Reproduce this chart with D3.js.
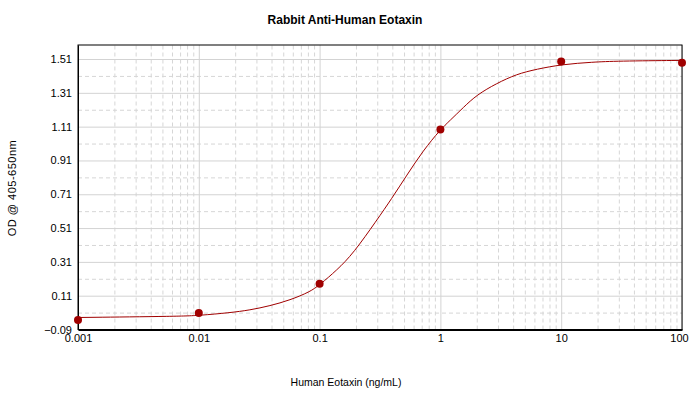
<!DOCTYPE html>
<html>
<head>
<meta charset="utf-8">
<script src="https://cdn.jsdelivr.net/npm/d3@7"></script>
<style>
  body { margin: 0; background: #fff; }
  svg { font-family: "Liberation Sans", Arial, sans-serif; }
</style>
</head>
<body>
<svg id="chart" width="700" height="400"></svg>
<script>
// standards (measured points)
const conc = [0.001, 0.01, 0.1, 1, 10, 100];
const od = [-0.034, 0.007, 0.180, 1.093, 1.496, 1.488];

// fitted curve
const fitConc = [0.001, 0.007, 0.01, 0.018, 0.0265, 0.0388, 0.0569, 0.0834, 0.1, 0.139, 0.19, 0.297, 0.395, 0.526, 0.721, 1, 1.2, 1.55, 2.0, 2.92, 4.28, 6.26, 10.1, 18.3, 28.8, 100];
const fitOd = [-0.019, -0.012, -0.007, 0.009, 0.025, 0.050, 0.084, 0.133, 0.174, 0.261, 0.360, 0.556, 0.684, 0.822, 0.969, 1.093, 1.146, 1.224, 1.298, 1.366, 1.421, 1.450, 1.478, 1.492, 1.498, 1.502];

const xTicks = [0.001, 0.01, 0.1, 1, 10, 100];
const yTicks = [-0.09, 0.11, 0.31, 0.51, 0.71, 0.91, 1.11, 1.31, 1.51];
const yMinor = [0.01, 0.21, 0.41, 0.61, 0.81, 1.01, 1.21, 1.41];

const margin = { top: 45, right: 18, bottom: 70.5, left: 78 };
const width = 700 - margin.left - margin.right;
const height = 400 - margin.top - margin.bottom;

const svg = d3.select("#chart");
const g = svg.append("g")
  .attr("transform", "translate(" + margin.left + "," + margin.top + ")");

const x = d3.scaleLog().domain([0.001, 100]).range([0, width]);
const y = d3.scaleLinear().domain([-0.09, 1.593]).range([height, 0]);

// minor grid (dashed)
const xMinor = x.ticks().filter(d => xTicks.indexOf(d) < 0);
g.append("g")
  .attr("class", "grid-minor")
  .attr("transform", "translate(0," + height + ")")
  .call(d3.axisBottom(x).tickValues(xMinor).tickSize(-height).tickFormat(""));
g.append("g")
  .attr("class", "grid-minor")
  .call(d3.axisLeft(y).tickValues(yMinor).tickSize(-width).tickFormat(""));

// major grid (solid)
g.append("g")
  .attr("class", "grid-major")
  .attr("transform", "translate(0," + height + ")")
  .call(d3.axisBottom(x).tickValues(xTicks).tickSize(-height).tickFormat(""));
g.append("g")
  .attr("class", "grid-major")
  .call(d3.axisLeft(y).tickValues(yTicks).tickSize(-width).tickFormat(""));

g.selectAll(".grid-minor line").attr("stroke", "#d6d6d6").attr("stroke-dasharray", "4,3");
g.selectAll(".grid-major line").attr("stroke", "#d3d3d3");
g.selectAll(".grid-minor .domain, .grid-major .domain").remove();

// frame
g.append("rect")
  .attr("width", width)
  .attr("height", height)
  .attr("fill", "none")
  .attr("stroke", "#000")
  .attr("stroke-width", 1);

// axes with labels
const xAxis = g.append("g")
  .attr("transform", "translate(0," + height + ")")
  .call(d3.axisBottom(x).tickValues(xTicks).tickSize(0).tickPadding(5)
    .tickFormat(d => String(d)));
xAxis.select(".domain").attr("stroke", "#000").attr("stroke-width", 2);
xAxis.selectAll("text").attr("font-size", 11).attr("fill", "#000")
  .attr("font-family", "'Liberation Sans', Arial, sans-serif");
xAxis.selectAll("text").filter(d => d === 100).attr("dx", -3);

const yAxis = g.append("g")
  .call(d3.axisLeft(y).tickValues(yTicks).tickSize(0).tickPadding(6)
    .tickFormat(d3.format(".2f")));
yAxis.select(".domain").attr("stroke", "#000");
yAxis.selectAll("text").attr("font-size", 11).attr("fill", "#000")
  .attr("font-family", "'Liberation Sans', Arial, sans-serif");

// fitted curve
const line = d3.line()
  .x((d, i) => x(fitConc[i]))
  .y((d, i) => y(fitOd[i]))
  .curve(d3.curveBasis);
g.append("path")
  .datum(fitOd)
  .attr("d", line)
  .attr("fill", "none")
  .attr("stroke", "#a00000")
  .attr("stroke-width", 1);

// points
g.selectAll("circle")
  .data(od)
  .enter()
  .append("circle")
  .attr("cx", (d, i) => x(conc[i]))
  .attr("cy", d => y(d))
  .attr("r", 4)
  .attr("fill", "#a00000");

// title
svg.append("text")
  .attr("x", 345)
  .attr("y", 24)
  .attr("text-anchor", "middle")
  .attr("font-size", 12)
  .attr("font-weight", "bold")
  .text("Rabbit Anti-Human Eotaxin");

// X label
svg.append("text")
  .attr("x", 346)
  .attr("y", 386)
  .attr("text-anchor", "middle")
  .attr("font-size", 10.5)
  .text("Human Eotaxin (ng/mL)");

// Y label
svg.append("text")
  .attr("transform", "translate(16,188) rotate(-90)")
  .attr("text-anchor", "middle")
  .attr("font-size", 11)
  .attr("letter-spacing", 0.5)
  .text("OD @ 405-650nm");
</script>
</body>
</html>
